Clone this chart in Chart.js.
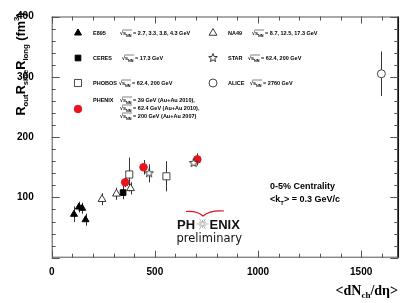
<!DOCTYPE html>
<html>
<head>
<meta charset="utf-8">
<script src="https://cdn.jsdelivr.net/npm/chart.js@4.4.1/dist/chart.umd.min.js"></script>
<style>
  html, body { margin: 0; padding: 0; background: #fff; }
  #wrap { width: 415px; height: 303px; }
</style>
</head>
<body>
<div id="wrap"><canvas id="hbtChart" width="415" height="303"></canvas></div>
<script>
// values: <dNch/deta>, Rout*Rside*Rlong (fm^3), error
const e895X = [108, 132, 148, 164];
const e895Y = [72, 84, 82, 63];
const e895Err = [13, 9, 9, 10];

const na49X = [244, 314, 382];
const na49Y = [97, 106, 115];
const na49Err = [10, 10, 10];

const ceresX = [346];
const ceresY = [108];
const ceresErr = [11];

const phobosX = [376, 556];
const phobosY = [138, 135];
const phobosErr = [28, 25];

const starX = [472, 688];
const starY = [140, 157];
const starErr = [15, 5];

const phenixX = [356, 445, 706];
const phenixY = [125, 150, 163];
const phenixErr = [8, 12, 10];

const aliceX = [1598];
const aliceY = [305];
const aliceErr = [37];

const xTicks = [0, 500, 1000, 1500];
const yTicks = [100, 200, 300, 400];

const pts = (xs, ys, es) => xs.map((x, i) => ({ x: x, y: ys[i], e: es[i] }));

// open five point star marker
function makeStar(r) {
    const c = document.createElement('canvas');
    const s = Math.ceil(r * 2 + 3);
    c.width = s; c.height = s;
    const g = c.getContext('2d');
    g.beginPath();
    for (let i = 0; i < 10; i++) {
        const rr = i % 2 === 0 ? r : r * 0.42;
        const a = -Math.PI / 2 + i * Math.PI / 5;
        const px = s / 2 + rr * Math.cos(a);
        const py = s / 2 + rr * Math.sin(a);
        if (i === 0) g.moveTo(px, py); else g.lineTo(px, py);
    }
    g.closePath();
    g.fillStyle = '#fff';
    g.fill();
    g.strokeStyle = '#222';
    g.lineWidth = 0.9;
    g.stroke();
    return c;
}
const starImg = makeStar(4.5);

function richText(ctx, parts, x, y) {
    let cx = x;
    parts.forEach(p => {
        ctx.font = p.f;
        ctx.fillText(p.t, cx, y + (p.dy || 0));
        cx += ctx.measureText(p.t).width;
    });
    return cx;
}
function richWidth(ctx, parts) {
    let w = 0;
    parts.forEach(p => { ctx.font = p.f; w += ctx.measureText(p.t).width; });
    return w;
}

// sqrt(s_NN) = ... in legend
function sqrtLabel(ctx, x, y, rest) {
    const f = 'bold 5.5px Arial';
    const fs = 'bold 3.8px Arial';
    ctx.font = f;
    ctx.fillText('\u221A', x, y);
    let cx = x + ctx.measureText('\u221A').width;
    const x0 = cx;
    ctx.fillText('s', cx, y);
    cx += ctx.measureText('s').width;
    ctx.font = fs;
    ctx.fillText('NN', cx, y + 1.5);
    cx += ctx.measureText('NN').width;
    ctx.beginPath();
    ctx.moveTo(x0 - 0.5, y - 5);
    ctx.lineTo(cx + 0.5, y - 5);
    ctx.lineWidth = 0.5;
    ctx.stroke();
    ctx.font = f;
    ctx.fillText(' ' + rest, cx, y);
}

const legendRows = [
    { x: 78, y: 33, ds: 0, name: 'E895', tx: 120, lines: ['= 2.7, 3.3, 3.8, 4.3 GeV'] },
    { x: 213, y: 33, ds: 1, name: 'NA49', tx: 252, lines: ['= 8.7, 12.5, 17.3 GeV'] },
    { x: 78, y: 58, ds: 2, name: 'CERES', tx: 122, lines: ['= 17.3 GeV'] },
    { x: 213, y: 58, ds: 4, name: 'STAR', tx: 248, lines: ['= 62.4, 200 GeV'] },
    { x: 78, y: 83, ds: 3, name: 'PHOBOS', tx: 119, lines: ['= 62.4, 200 GeV'] },
    { x: 213, y: 83, ds: 6, name: 'ALICE', tx: 250, lines: ['= 2760 GeV'] },
    { x: 78, y: 109, ds: 5, name: 'PHENIX', tx: 120, ty: 100, lines: ['= 39 GeV (Au+Au 2010),', '= 62.4 GeV (Au+Au 2010),', '= 200 GeV (Au+Au 2007)'] }
];

const hbtPlugin = {
    id: 'hbt',
    beforeDatasetsDraw(chart) {
        const ctx = chart.ctx;
        const xs = chart.scales.x, ys = chart.scales.y;
        ctx.save();
        ctx.strokeStyle = '#333';
        ctx.lineWidth = 1;
        chart.data.datasets.forEach(ds => {
            ds.data.forEach(p => {
                const px = Math.round(xs.getPixelForValue(p.x)) + 0.5;
                ctx.beginPath();
                ctx.moveTo(px, ys.getPixelForValue(p.y - p.e));
                ctx.lineTo(px, ys.getPixelForValue(p.y + p.e));
                ctx.stroke();
            });
        });
        ctx.restore();
    },
    afterDraw(chart) {
        const ctx = chart.ctx;
        const a = chart.chartArea;
        const xs = chart.scales.x, ys = chart.scales.y;
        ctx.save();

        // frame
        ctx.strokeStyle = '#555';
        ctx.lineWidth = 1;
        ctx.strokeRect(a.left + 0.5, a.top + 0.5, a.right - a.left - 1, a.bottom - a.top - 1);
        ctx.strokeStyle = '#111';
        ctx.lineWidth = 1.5;
        ctx.beginPath();
        ctx.moveTo(a.right, a.top);
        ctx.lineTo(a.right, a.bottom);
        ctx.stroke();

        // inward ticks
        ctx.strokeStyle = '#555';
        ctx.lineWidth = 1;
        for (let v = 0; v <= 1680; v += 100) {
            const px = Math.round(xs.getPixelForValue(v)) + 0.5;
            const len = v % 500 === 0 ? 7 : 4;
            ctx.beginPath();
            ctx.moveTo(px, a.bottom); ctx.lineTo(px, a.bottom - len);
            ctx.moveTo(px, a.top); ctx.lineTo(px, a.top + len);
            ctx.stroke();
        }
        for (let v = 0; v <= 400; v += 20) {
            const py = Math.round(ys.getPixelForValue(v)) + 0.5;
            const len = v % 100 === 0 ? 8 : 4;
            ctx.beginPath();
            ctx.moveTo(a.left, py); ctx.lineTo(a.left + len, py);
            ctx.moveTo(a.right, py); ctx.lineTo(a.right - len, py);
            ctx.stroke();
        }

        // legend
        ctx.fillStyle = '#000';
        ctx.strokeStyle = '#000';
        ctx.textBaseline = 'alphabetic';
        legendRows.forEach(r => {
            const ds = chart.data.datasets[r.ds];
            ctx.save();
            ctx.fillStyle = ds.backgroundColor;
            ctx.strokeStyle = ds.borderColor;
            ctx.lineWidth = ds.borderWidth;
            Chart.helpers.drawPoint(ctx, { pointStyle: ds.pointStyle, radius: ds.pointRadius, rotation: 0, borderWidth: ds.borderWidth }, r.x, r.y);
            ctx.restore();
            const ty = (r.ty || r.y) + 2;
            ctx.font = 'bold 5.5px Arial';
            ctx.fillText(r.name, r.x + 15, ty);
            r.lines.forEach((l, i) => sqrtLabel(ctx, r.tx, ty + i * 8, l));
        });

        // centrality text
        ctx.fillStyle = '#000';
        ctx.font = 'bold 9px Arial';
        ctx.fillText('0-5% Centrality', 270, 189);
        richText(ctx, [
            { t: '<k', f: 'bold 9px Arial' },
            { t: 'T', f: 'bold 6px Arial', dy: 2.5 },
            { t: '> = 0.3 GeV/c', f: 'bold 9px Arial' }
        ], 270, 202);

        // PHENIX preliminary logo
        ctx.strokeStyle = '#e0141e';
        ctx.lineWidth = 1.2;
        ctx.beginPath();
        ctx.moveTo(186, 211.5);
        ctx.quadraticCurveTo(197, 210.5, 203, 216);
        ctx.quadraticCurveTo(210, 210, 224, 211);
        ctx.stroke();
        ctx.fillStyle = '#111';
        ctx.font = 'bold 13px Arial';
        ctx.fillText('PH', 177, 229);
        ctx.fillText('ENIX', 209.5, 229);
        ctx.strokeStyle = '#999';
        ctx.lineWidth = 0.7;
        for (let i = 0; i < 12; i++) {
            const ang = i * Math.PI / 6;
            const rr = i % 2 === 0 ? 6 : 4;
            ctx.beginPath();
            ctx.moveTo(202.5 + 1.2 * Math.cos(ang), 224 + 1.2 * Math.sin(ang));
            ctx.lineTo(202.5 + rr * Math.cos(ang), 224 + rr * Math.sin(ang));
            ctx.stroke();
        }
        ctx.font = '11.5px "DejaVu Sans"';
        ctx.fillText('preliminary', 176.5, 242);

        // y title
        const yParts = [
            { t: 'R', f: 'bold 13px Arial' },
            { t: 'out', f: 'bold 8px Arial', dy: 3 },
            { t: 'R', f: 'bold 13px Arial' },
            { t: 'side', f: 'bold 8px Arial', dy: 3 },
            { t: 'R', f: 'bold 13px Arial' },
            { t: 'long', f: 'bold 8px Arial', dy: 3 },
            { t: ' (fm', f: 'bold 13px Arial' },
            { t: '3', f: 'bold 8px Arial', dy: -6 },
            { t: ')', f: 'bold 13px Arial' }
        ];
        ctx.save();
        ctx.translate(25, 64);
        ctx.rotate(-Math.PI / 2);
        ctx.fillStyle = '#000';
        const yw = richWidth(ctx, yParts);
        const sc = Math.min(1, 103 / yw);
        ctx.scale(sc, 1);
        richText(ctx, yParts, -yw / 2, 0);
        ctx.restore();

        // x title
        const xParts = [
            { t: '<dN', f: 'bold 14px "Liberation Serif"' },
            { t: 'ch', f: 'bold 9px "Liberation Serif"', dy: 3 },
            { t: '/d\u03B7>', f: 'bold 14px "Liberation Serif"' }
        ];
        ctx.fillStyle = '#000';
        richText(ctx, xParts, 398 - richWidth(ctx, xParts), 295);

        ctx.restore();
    }
};

new Chart(document.getElementById('hbtChart'), {
    type: 'scatter',
    data: {
        datasets: [
            { label: 'E895', data: pts(e895X, e895Y, e895Err), pointStyle: 'triangle', pointRadius: 4, backgroundColor: '#000', borderColor: '#000', borderWidth: 1 },
            { label: 'NA49', data: pts(na49X, na49Y, na49Err), pointStyle: 'triangle', pointRadius: 4.5, backgroundColor: '#fff', borderColor: '#222', borderWidth: 0.9 },
            { label: 'CERES', data: pts(ceresX, ceresY, ceresErr), pointStyle: 'rect', pointRadius: 4, backgroundColor: '#000', borderColor: '#000', borderWidth: 1 },
            { label: 'PHOBOS', data: pts(phobosX, phobosY, phobosErr), pointStyle: 'rect', pointRadius: 5, backgroundColor: '#fff', borderColor: '#333', borderWidth: 0.9 },
            { label: 'STAR', data: pts(starX, starY, starErr), pointStyle: starImg, pointRadius: 4.5, backgroundColor: '#fff', borderColor: '#222', borderWidth: 0.9 },
            { label: 'PHENIX', data: pts(phenixX, phenixY, phenixErr), pointStyle: 'circle', pointRadius: 3.8, backgroundColor: '#e8141c', borderColor: '#e8141c', borderWidth: 1 },
            { label: 'ALICE', data: pts(aliceX, aliceY, aliceErr), pointStyle: 'circle', pointRadius: 4, backgroundColor: '#fff', borderColor: '#333', borderWidth: 0.9 }
        ]
    },
    options: {
        responsive: false,
        animation: false,
        devicePixelRatio: 1,
        layout: { padding: { top: 16.5, right: 16.7, left: 0, bottom: 0 } },
        plugins: {
            legend: { display: false },
            tooltip: { enabled: false }
        },
        scales: {
            x: {
                type: 'linear',
                min: 0,
                max: 1680,
                afterBuildTicks: s => { s.ticks = xTicks.map(v => ({ value: v })); },
                afterFit: s => { s.height = 303 - 257.7; },
                grid: { display: false },
                border: { display: false },
                ticks: { color: '#000', font: { family: 'Arial', size: 10, weight: 'bold' }, padding: 1, maxRotation: 0, callback: v => String(v) }
            },
            y: {
                min: 0,
                max: 400,
                afterBuildTicks: s => { s.ticks = yTicks.map(v => ({ value: v })); },
                afterFit: s => { s.width = 51.7; },
                grid: { display: false },
                border: { display: false },
                ticks: { color: '#000', font: { family: 'Arial', size: 10, weight: 'bold' }, padding: 10, callback: v => String(v) }
            }
        }
    },
    plugins: [hbtPlugin]
});
</script>
</body>
</html>
